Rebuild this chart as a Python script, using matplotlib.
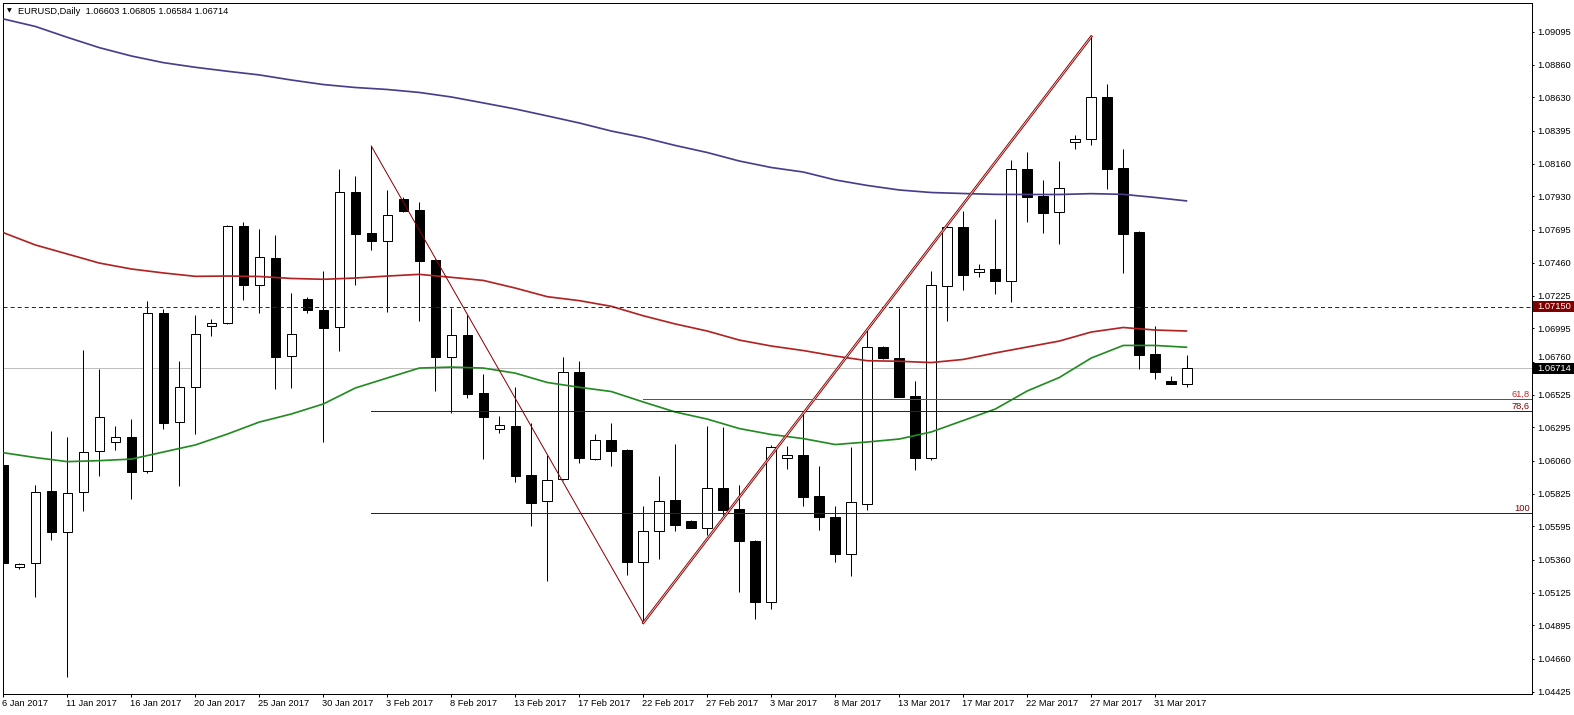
import numpy as np
import matplotlib
matplotlib.use("Agg")
import matplotlib.pyplot as plt
from matplotlib.patches import Rectangle
from matplotlib.transforms import blended_transform_factory, ScaledTranslation

plt.rcParams['font.family'] = ['Liberation Sans', 'DejaVu Sans']
plt.rcParams['lines.scale_dashes'] = False

# ---------------- data ----------------
symbol = "EURUSD,Daily"

opens = [1.06029, 1.05305, 1.05334, 1.05845, 1.05557, 1.05836, 1.06126, 1.06190, 1.06225, 1.05984,
         1.07102, 1.06331, 1.06579, 1.07010, 1.07032, 1.07718, 1.07305, 1.07494, 1.06798, 1.07204,
         1.07126, 1.07003, 1.07959, 1.07671, 1.07612, 1.07909, 1.07833, 1.07480, 1.06795, 1.06947,
         1.06536, 1.06282, 1.06305, 1.05958, 1.05772, 1.05928, 1.06685, 1.06069, 1.06204, 1.06135,
         1.05345, 1.05560, 1.05781, 1.05633, 1.05587, 1.05864, 1.05715, 1.05491, 1.05058, 1.06076,
         1.06098, 1.05809, 1.05661, 1.05401, 1.05755, 1.06864, 1.06784, 1.06517, 1.06080, 1.07298,
         1.07713, 1.07392, 1.07416, 1.07333, 1.08121, 1.07934, 1.07821, 1.08312, 1.08334, 1.08631,
         1.08128, 1.07678, 1.06814, 1.06623, 1.06603]
highs = [1.06220, 1.05338, 1.05887, 1.06270, 1.06227, 1.06843, 1.06708, 1.06305, 1.06353, 1.07189,
         1.07133, 1.06765, 1.07090, 1.07062, 1.07725, 1.07748, 1.07699, 1.07654, 1.07244, 1.07218,
         1.07402, 1.08123, 1.08074, 1.08286, 1.07975, 1.07927, 1.07891, 1.07490, 1.07138, 1.07090,
         1.06671, 1.06376, 1.06581, 1.06329, 1.06100, 1.06791, 1.06765, 1.06248, 1.06327, 1.06140,
         1.05739, 1.05951, 1.06178, 1.05640, 1.06305, 1.06300, 1.05887, 1.05498, 1.06171, 1.06163,
         1.06404, 1.06022, 1.05739, 1.06158, 1.06984, 1.06871, 1.07138, 1.06623, 1.07402, 1.07739,
         1.07826, 1.07451, 1.07770, 1.08187, 1.08244, 1.08046, 1.08180, 1.08364, 1.09060, 1.08725,
         1.08265, 1.07687, 1.07012, 1.06659, 1.06805]
lows = [1.05239, 1.05291, 1.05097, 1.05498, 1.04531, 1.05706, 1.05953, 1.06137, 1.05786, 1.05970,
        1.06282, 1.05882, 1.06246, 1.06944, 1.07027, 1.07199, 1.07107, 1.06569, 1.06576, 1.07107,
        1.06194, 1.06838, 1.07305, 1.07550, 1.07114, 1.07821, 1.07050, 1.06555, 1.06399, 1.06501,
        1.06069, 1.06258, 1.05911, 1.05600, 1.05208, 1.05925, 1.06045, 1.06067, 1.06024, 1.05253,
        1.04913, 1.05364, 1.05564, 1.05583, 1.05534, 1.05675, 1.05132, 1.04941, 1.05012, 1.06000,
        1.05741, 1.05569, 1.05345, 1.05246, 1.05710, 1.06779, 1.06507, 1.05994, 1.06064, 1.07050,
        1.07267, 1.07361, 1.07239, 1.07182, 1.07748, 1.07671, 1.07593, 1.08265, 1.08293, 1.07982,
        1.07390, 1.06708, 1.06640, 1.06599, 1.06584]
closes = [1.05338, 1.05326, 1.05836, 1.05557, 1.05829, 1.06119, 1.06367, 1.06225, 1.05981, 1.07102,
          1.06329, 1.06579, 1.06954, 1.07034, 1.07718, 1.07305, 1.07499, 1.06795, 1.06954, 1.07128,
          1.07001, 1.07959, 1.07666, 1.07612, 1.07796, 1.07828, 1.07475, 1.06795, 1.06947, 1.06534,
          1.06371, 1.06309, 1.05953, 1.05762, 1.05921, 1.06685, 1.06076, 1.06204, 1.06130, 1.05345,
          1.05560, 1.05772, 1.05606, 1.05585, 1.05864, 1.05713, 1.05493, 1.05062, 1.06154, 1.06098,
          1.05805, 1.05663, 1.05401, 1.05765, 1.06862, 1.06788, 1.06510, 1.06080, 1.07300, 1.07711,
          1.07373, 1.07416, 1.07333, 1.08121, 1.07927, 1.07814, 1.07987, 1.08336, 1.08631, 1.08124,
          1.07666, 1.06810, 1.06687, 1.06603, 1.06714]

# x-axis: every 4th bar is labelled
tick_bars = [0, 4, 8, 12, 16, 20, 24, 28, 32, 36, 40, 44, 48, 52, 56, 60, 64, 68, 72]
date_labels = ["6 Jan 2017", "11 Jan 2017", "16 Jan 2017", "20 Jan 2017", "25 Jan 2017",
               "30 Jan 2017", "3 Feb 2017", "8 Feb 2017", "13 Feb 2017", "17 Feb 2017",
               "22 Feb 2017", "27 Feb 2017", "3 Mar 2017", "8 Mar 2017", "13 Mar 2017",
               "17 Mar 2017", "22 Mar 2017", "27 Mar 2017", "31 Mar 2017"]
price_labels = ["1.09095", "1.08860", "1.08630", "1.08395", "1.08160", "1.07930", "1.07695",
                "1.07460", "1.07225", "1.06995", "1.06760", "1.06525", "1.06295", "1.06060",
                "1.05825", "1.05595", "1.05360", "1.05125", "1.04895", "1.04660", "1.04425"]

# moving averages, read every second bar
ma_bars = [0, 2, 4, 6, 8, 10, 12, 14, 16, 18, 20, 22, 24, 26, 28, 30, 32, 34, 36, 38,
           40, 42, 44, 46, 48, 50, 52, 54, 56, 58, 60, 62, 64, 66, 68, 70, 72, 74]
ma_blue = [1.09185, 1.09132, 1.09055, 1.08982, 1.08923, 1.08876, 1.08843, 1.08815, 1.08789, 1.08753,
           1.08721, 1.08700, 1.08686, 1.08665, 1.08633, 1.08591, 1.08548, 1.08499, 1.08449, 1.08392,
           1.08346, 1.08290, 1.08240, 1.08180, 1.08134, 1.08102, 1.08046, 1.08007, 1.07975, 1.07957,
           1.07950, 1.07944, 1.07943, 1.07943, 1.07949, 1.07944, 1.07922, 1.07897]
ma_red = [1.07673, 1.07586, 1.07522, 1.07458, 1.07416, 1.07388, 1.07364, 1.07366, 1.07363, 1.07349,
          1.07343, 1.07352, 1.07366, 1.07378, 1.07357, 1.07335, 1.07281, 1.07220, 1.07192, 1.07152,
          1.07085, 1.07027, 1.06977, 1.06913, 1.06871, 1.06839, 1.06800, 1.06767, 1.06763, 1.06754,
          1.06776, 1.06822, 1.06864, 1.06906, 1.06970, 1.07002, 1.06984, 1.06977]
ma_green = [1.06116, 1.06082, 1.06053, 1.06060, 1.06071, 1.06121, 1.06171, 1.06248, 1.06333, 1.06390,
            1.06461, 1.06574, 1.06645, 1.06715, 1.06722, 1.06715, 1.06679, 1.06613, 1.06579, 1.06549,
            1.06475, 1.06404, 1.06354, 1.06287, 1.06245, 1.06216, 1.06174, 1.06192, 1.06213, 1.06263,
            1.06344, 1.06425, 1.06553, 1.06648, 1.06786, 1.06875, 1.06875, 1.06862]

hline_level = 1.07150
zigzag_bars = [23, 40, 68]          # swing high, swing low, swing high
fib2_base = 1.05687                 # 100 level of second retracement
fib2_start_bar = 23

# ---------------- layout ----------------
W, H, DPI = 1574, 715, 100
PX = 72.0 / DPI                     # points per pixel
AX_L, AX_R, AX_T, AX_B = 2.7, 1531.7, 2.7, 694.0
X_MIN, X_MAX = -0.04, 95.53
Y_MIN, Y_MAX = 1.04409, 1.09300

fig = plt.figure(figsize=(W / DPI, H / DPI), dpi=DPI, facecolor='white')
ax = fig.add_axes([AX_L / W, 1 - AX_B / H, (AX_R - AX_L) / W, (AX_B - AX_T) / H])
ax.set_xlim(X_MIN, X_MAX)
ax.set_ylim(Y_MIN, Y_MAX)
ax.set_facecolor('white')
for s in ax.spines.values():
    s.set_linewidth(1.0 * PX)
    s.set_color('black')

FS = 6.7
o = np.array(opens); h = np.array(highs); l = np.array(lows); c = np.array(closes)
x = np.arange(len(o))
up = c >= o
lo_b = np.minimum(o, c)
hi_b = np.maximum(o, c)

# current price line (behind candles)
ax.axhline(c[-1], color='#C0C0C0', lw=1.0 * PX, zorder=1)

# candles
ax.vlines(x, l, h, color='black', lw=1.0 * PX, zorder=2)
bw = 0.6
ax.bar(x[up], (hi_b - lo_b)[up], bottom=lo_b[up], width=bw, facecolor='white',
       edgecolor='black', linewidth=1.0 * PX, zorder=3)
ax.bar(x[~up], (hi_b - lo_b)[~up], bottom=lo_b[~up], width=bw, facecolor='black',
       edgecolor='black', linewidth=1.0 * PX, zorder=3)

# moving averages
ax.plot(ma_bars, ma_blue, color='#483D8B', lw=1.7 * PX, zorder=4, solid_capstyle='butt')
ax.plot(ma_bars, ma_red, color='#B22222', lw=1.7 * PX, zorder=4, solid_capstyle='butt')
ax.plot(ma_bars, ma_green, color='#228B22', lw=1.7 * PX, zorder=4, solid_capstyle='butt')

# horizontal dashed level
ax.axhline(hline_level, color='#8B0000', lw=1.0 * PX, dashes=(2.9, 2.2), zorder=5)

# zigzag
b0, b1, b2 = zigzag_bars
ax.plot([b0, b1], [h[b0], l[b1]], color='#8B0000', lw=1.0 * PX, zorder=5)
ax.plot([b1, b2], [l[b1], h[b2]], color='#8B0000', lw=2.6 * PX, zorder=5)
ax.plot([b1, b2], [l[b1], h[b2]], color='#F0D6D6', lw=0.8 * PX, zorder=6)

# fibonacci levels
fib1_618 = h[b2] - 0.618 * (h[b2] - l[b1])
fib2_786 = h[b2] - 0.786 * (h[b2] - fib2_base)
fib_levels = [("61,8", fib1_618, b1, '#C0282D'),
              ("78,6", fib2_786, fib2_start_bar, '#800000'),
              ("100", fib2_base, fib2_start_bar, '#800000')]
blend = blended_transform_factory(ax.transAxes, ax.transData)
for lab, lev, start, col in fib_levels:
    ax.plot([start, X_MAX], [lev, lev], color=col, lw=1.0 * PX, zorder=5)
    ax.annotate(lab, xy=(1.0, lev), xycoords=blend, xytext=(-1.7, 2.2),
                textcoords='offset pixels', ha='right', va='baseline',
                fontsize=FS, color=col, zorder=6)

# axes ticks
ax.yaxis.tick_right()
ax.set_yticks([float(s) for s in price_labels])
ax.set_yticklabels(price_labels)
ax.tick_params(axis='y', direction='out', length=2.5 * PX, width=1.0 * PX,
               pad=3.2 * PX, labelsize=FS, colors='black')
ax.set_xticks(tick_bars)
ax.set_xticklabels(date_labels, ha='left')
ax.tick_params(axis='x', direction='out', length=3.3 * PX, width=1.0 * PX,
               pad=1.2 * PX, labelsize=FS, colors='black')
shift = ScaledTranslation(-1.6 / DPI, 0, fig.dpi_scale_trans)
for t in ax.get_xticklabels():
    t.set_transform(t.get_transform() + shift)

# price boxes on the right axis
px_price = (Y_MAX - Y_MIN) / (AX_B - AX_T)
box_h = 11 * px_price
box_x0 = 1.0 / (AX_R - AX_L) + 1.0
box_w = (W - AX_R) / (AX_R - AX_L)
for val, bg in [(hline_level, '#800000'), (c[-1], '#000000')]:
    ax.add_patch(Rectangle((box_x0, val - box_h / 2), box_w, box_h, transform=blend,
                           facecolor=bg, edgecolor='none', clip_on=False, zorder=20))
    ax.text(1.0 + 5.6 / (AX_R - AX_L), val, f"{val:.5f}", transform=blend, ha='left',
            va='center', fontsize=FS, color='white', zorder=21, clip_on=False)

# the tick label hidden under the current-price box is nudged upward so it stays readable
lift = ScaledTranslation(0, 5.0 / DPI, fig.dpi_scale_trans)
for t, s in zip(ax.get_yticklabels(), price_labels):
    if abs(float(s) - c[-1]) < box_h:
        t.set_transform(t.get_transform() + lift)

# header
header = f"{symbol}  {o[-1]:.5f} {h[-1]:.5f} {l[-1]:.5f} {c[-1]:.5f}"
fig.text(18.3 / W, 1 - 11.0 / H, header, ha='left', va='center', fontsize=FS, color='black')
fig.text(9.5 / W, 1 - 10.5 / H, "\u25BC", ha='center', va='center', fontsize=4.5,
         family='DejaVu Sans', color='black')

fig.savefig("out.png", dpi=DPI, facecolor='white')
